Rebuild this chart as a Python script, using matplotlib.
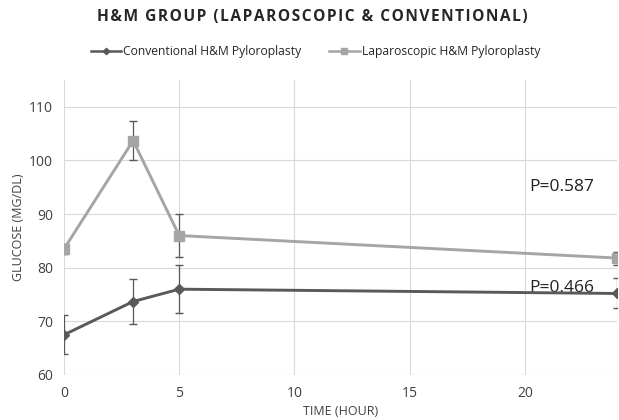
import matplotlib.pyplot as plt

plt.rcParams['font.family'] = ['Open Sans', 'DejaVu Sans']

hours = [0, 3, 5, 24]
conv_mean = [67.5, 73.7, 76.0, 75.2]
conv_err = [3.6, 4.2, 4.5, 2.8]
lap_mean = [83.5, 103.7, 86.0, 81.8]
lap_err = [0.9, 3.7, 4.0, 1.2]
series_names = ['Conventional H&M Pyloroplasty', 'Laparoscopic H&M Pyloroplasty']
p_labels = ['P=0.587', 'P=0.466']
p_pos = [(20.2, 95.0), (20.2, 76.3)]
title = 'H&M GROUP (LAPAROSCOPIC & CONVENTIONAL)'

fig = plt.figure(figsize=(6.19, 4.2), dpi=100)
ax = fig.add_axes([64 / 619, 45 / 420, 553 / 619, 295 / 420])

dark = '#595959'
light = '#a5a5a5'

eb1 = ax.errorbar(hours, conv_mean, yerr=conv_err, color=dark, lw=2.1, marker='D',
                  ms=5, capsize=3, elinewidth=0.9, ecolor=dark, zorder=3)
eb2 = ax.errorbar(hours, lap_mean, yerr=lap_err, color=light, lw=2.1, marker='s',
                  ms=7, capsize=3, elinewidth=0.9, ecolor=dark, zorder=2)

for txt, (x, y) in zip(p_labels, p_pos):
    ax.text(x, y, txt, fontsize=12.5, color='#222222', va='center', ha='left', zorder=1)

ax.set_xlim(0, 24)
ax.set_ylim(60, 115)
ax.set_xticks([0, 5, 10, 15, 20])
ax.set_yticks([60, 70, 80, 90, 100, 110])
ax.grid(True, color='#d9d9d9', lw=0.8)
ax.set_axisbelow(True)
for s in ax.spines.values():
    s.set_visible(False)
ax.tick_params(length=0, labelsize=10, colors='#404040', pad=8)
ax.set_xlabel('TIME (HOUR)', fontsize=9, color='#404040', labelpad=3)
ax.set_ylabel('GLUCOSE (MG/DL)', fontsize=9, color='#404040', labelpad=3)

# spaced-out title like the original
fig.text(0.504, 1 - 17 / 420, '\u200a'.join(title),
         ha='center', va='center', fontsize=11.2, fontweight='bold', color='#262626')

leg = ax.legend([eb1[0], eb2[0]], series_names, loc='center',
                bbox_to_anchor=(0.455, 1.095), ncol=2, frameon=False, fontsize=8.7,
                handlelength=2.5, columnspacing=2.3, handletextpad=0.2,
                markerscale=0.65, labelcolor='#262626')
for h in leg.legend_handles:
    h.set_linewidth(1.8)

fig.savefig('out.png', dpi=100, facecolor='white')
